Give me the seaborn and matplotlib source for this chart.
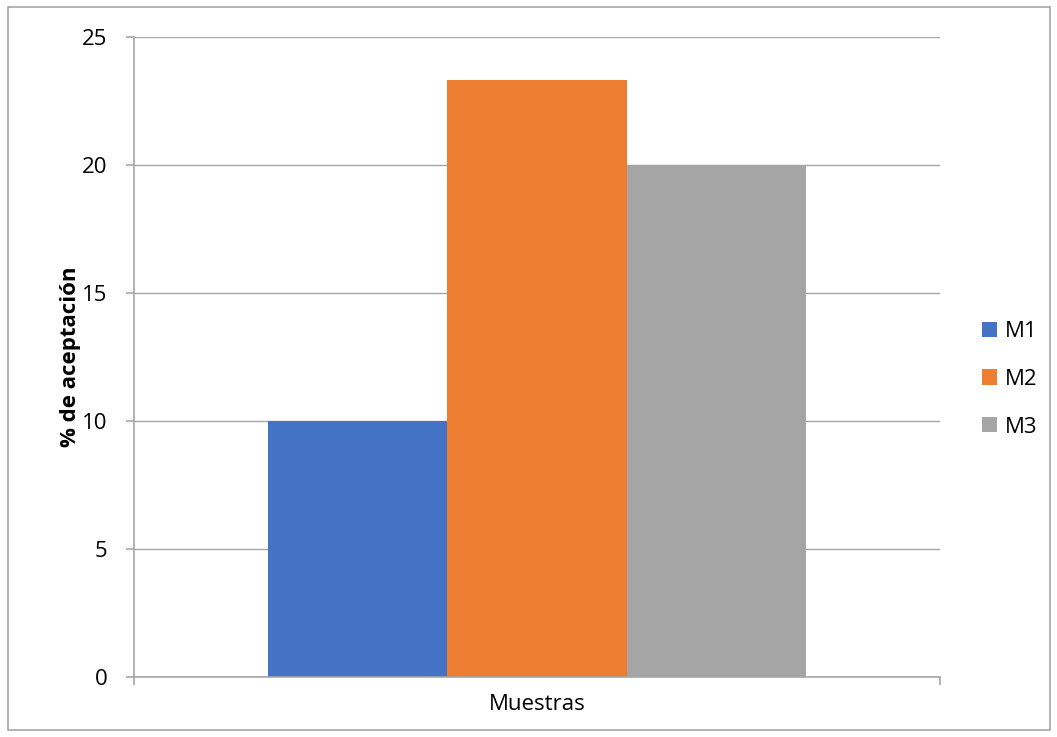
import matplotlib
matplotlib.use("Agg")
import matplotlib.pyplot as plt
import seaborn as sns
import pandas as pd
from matplotlib.patches import Rectangle

categories = ["Muestras"]
series = ["M1", "M2", "M3"]
values = [10, 23.33, 20]
colors = ["#4472C4", "#ED7D31", "#A5A5A5"]
yticks = [0, 5, 10, 15, 20, 25]

sns.set_theme(style="white")
plt.rcParams['font.family'] = ['Open Sans', 'DejaVu Sans']
plt.rcParams['text.color'] = 'black'
plt.rcParams['xtick.color'] = 'black'
plt.rcParams['ytick.color'] = 'black'
plt.rcParams['axes.labelcolor'] = 'black'

FS = 16

df = pd.DataFrame({"cat": categories * len(series), "serie": series, "val": values})

fig = plt.figure(figsize=(10.57, 7.37), dpi=100)
ax = fig.add_axes([134/1057, 1 - 677/737, (940-134)/1057, (677-37)/737])

sns.barplot(data=df, x="cat", y="val", hue="serie", palette=colors, width=0.667,
            ax=ax, saturation=1, legend=True)

ax.set_xlim(-0.5, 0.5)
ax.set_ylim(0, 25)
ax.set_yticks(yticks)
ax.set_yticklabels([str(t) for t in yticks], fontsize=FS)
ax.yaxis.grid(True, color="#A6A6A6", linewidth=1)
ax.set_axisbelow(True)
for s in ["top", "right"]:
    ax.spines[s].set_visible(False)
for s in ["left", "bottom"]:
    ax.spines[s].set_color("#A6A6A6")
    ax.spines[s].set_linewidth(1.2)
ax.tick_params(axis="y", length=6, color="#A6A6A6", width=1.2, left=True, pad=13,
               labelcolor="black")
ax.tick_params(axis="x", which="major", length=0, pad=12, labelsize=FS, labelcolor="black")
ax.set_xticks([-0.5, 0.5], minor=True)
ax.tick_params(axis="x", which="minor", length=6, color="#A6A6A6", width=1.2, bottom=True)
ax.set_xlabel("")
ax.set_ylabel("% de aceptación", fontsize=FS, fontweight="bold", labelpad=1, color="black")

for p in ax.patches:
    p.set_edgecolor("none")

leg = ax.legend(loc="center left", bbox_to_anchor=(1.027, 0.465), frameon=False,
                fontsize=FS, handlelength=0.68, handleheight=0.68, labelspacing=1.2,
                handletextpad=0.36, title=None)
for t in leg.get_texts():
    t.set_color("black")

fig.patches.append(Rectangle((8/1057, 1 - 730/737), (1050-8)/1057, (730-7)/737,
                             transform=fig.transFigure, fill=False,
                             edgecolor="#A6A6A6", linewidth=1.2))

fig.savefig("out.png", dpi=100)
